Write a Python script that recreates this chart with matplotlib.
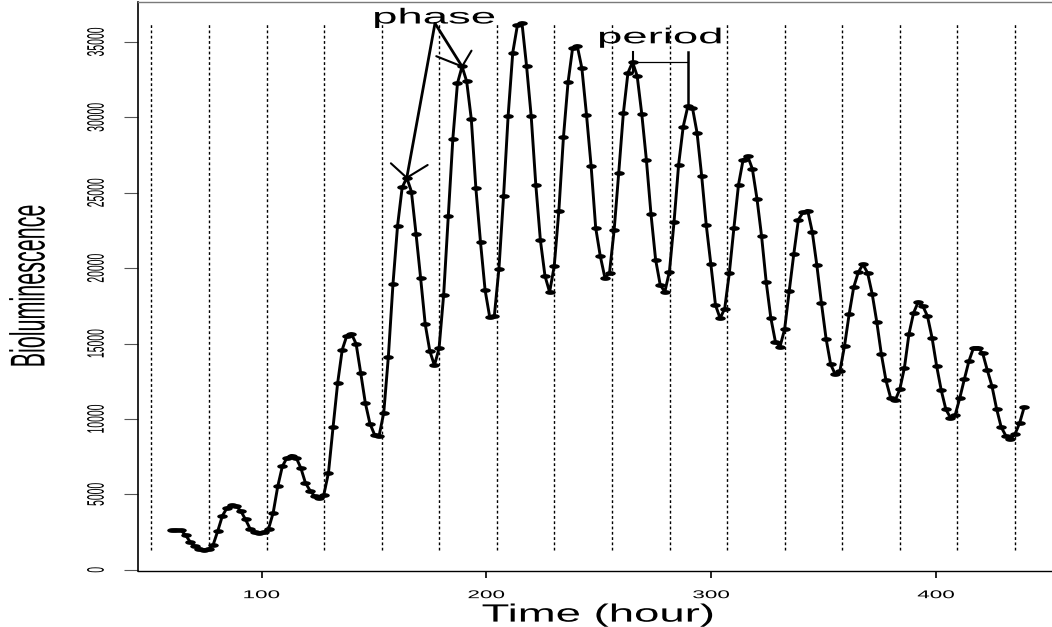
import numpy as np
import matplotlib
matplotlib.use("Agg")
import matplotlib.pyplot as plt
from matplotlib.path import Path
from matplotlib.patheffects import AbstractPathEffect
from matplotlib.transforms import Affine2D

# ---- data -------------------------------------------------------------
# bioluminescence counts, one sample every t_step hours from t_start
lum = [
    2610, 2640, 2620, 2300, 1850, 1570, 1400, 1340, 1380, 1680,
    2600, 3600, 4110, 4270, 4220, 3890, 3340, 2720, 2520, 2450,
    2500, 2720, 3780, 5540, 6870, 7430, 7580, 7430, 6760, 5770,
    5260, 4880, 4770, 4990, 6430, 9460, 12400, 14610, 15540, 15650,
    14990, 13060, 11070, 9700, 8970, 8900, 10410, 14130, 18940, 22820,
    25360, 26000, 25090, 22300, 19360, 16290, 14510, 13560, 14680, 18230,
    23460, 28600, 32270, 33380, 32390, 29900, 25290, 21730, 18540, 16760,
    16830, 19970, 24760, 30120, 34300, 36100, 36260, 33400, 30080, 25540,
    21850, 19480, 18420, 20140, 23790, 28690, 32330, 34620, 34740, 33270,
    30190, 26800, 22680, 20800, 19370, 19700, 22520, 26330, 30270, 32960,
    33670, 32750, 30230, 27190, 23590, 20580, 18900, 18430, 19780, 23060,
    26880, 29400, 30740, 30640, 28980, 26120, 22850, 20250, 17560, 16680,
    17320, 19680, 22680, 25550, 27200, 27430, 26590, 24620, 22130, 19100,
    16720, 15130, 14800, 15950, 18490, 20960, 23230, 23700, 23830, 22420,
    20190, 17670, 15330, 13620, 12960, 13180, 14840, 16940, 18750, 19740,
    20250, 19700, 18310, 16450, 14290, 12560, 11420, 11240, 11970, 13400,
    15660, 17050, 17760, 17490, 16830, 15390, 13510, 11900, 10640, 10090,
    10250, 11370, 12630, 13840, 14720, 14740, 14350, 13230, 12190, 10690,
    9470, 8900, 8660, 9000, 9730, 10790,
]
t_start = 60.0
t_step = 2.05

# dotted reference lines, one per cycle (hours)
cycle_marks = [50.96, 76.57, 102.18, 127.79, 153.40, 179.01, 204.62, 230.23,
               255.84, 281.45, 307.06, 332.67, 358.28, 383.89, 409.50, 435.11]

x_ticks = [100, 200, 300, 400]
y_ticks = [0, 5000, 10000, 15000, 20000, 25000, 30000, 35000]

# samples used by the annotations
phase_peaks = [51, 63]      # peaks the two "phase" arrows point at
period_peaks = [100, 112]   # consecutive peaks spanned by the "period" bar

lum = np.asarray(lum, dtype=float)
hours = t_start + t_step * np.arange(lum.size)

# ---- helpers ----------------------------------------------------------
class HStretch(AbstractPathEffect):
    """Draw text glyphs widened horizontally about their own centre."""
    def __init__(self, sx=2.0):
        super().__init__()
        self.sx = sx

    def draw_path(self, renderer, gc, tpath, affine, rgbFace=None):
        bb = tpath.get_extents(affine)
        cx = 0.5 * (bb.x0 + bb.x1)
        tr = affine + Affine2D().translate(-cx, 0).scale(self.sx, 1.0).translate(cx, 0)
        renderer.draw_path(gc, tpath, tr, rgbFace)


def r_range(lo, hi, frac=0.04):
    pad = frac * (hi - lo)
    return lo - pad, hi + pad


plt.rcParams['font.family'] = ['Liberation Sans', 'DejaVu Sans']

W, H = 1052, 627
fig = plt.figure(figsize=(W / 100, H / 100), dpi=100)
fig.patch.set_facecolor('white')
ax = fig.add_axes([137.7 / W, 1 - 570.7 / H, 920.6 / W, 568.7 / H])
ax.set_xlim(*r_range(hours.min(), hours.max()))
ax.set_ylim(*r_range(lum.min(), lum.max()))

# wide elliptical point symbol
theta = np.linspace(0, 2 * np.pi, 49)
ellipse = Path(np.column_stack([np.cos(theta), 0.45 * np.sin(theta)]), closed=True)

# cycle lines
ax.vlines(cycle_marks, lum.min(), lum.max(), colors='black',
          linestyles=[(0, (2.0, 1.8))], linewidth=1.0, zorder=1)

# series
ax.plot(hours, lum, color='black', lw=2.1, solid_joinstyle='round',
        solid_capstyle='round', zorder=3)
ax.plot(hours, lum, ls='none', marker=ellipse, ms=7.6, mfc='black',
        mec='black', mew=0, zorder=4)

# ---- axes styling -------------------------------------------------------
ax.spines['right'].set_visible(False)
ax.spines['top'].set_color('#7a7a7a')
ax.spines['top'].set_linewidth(1.0)
ax.spines['left'].set_linewidth(1.2)
ax.spines['bottom'].set_linewidth(1.0)

ax.set_xticks(x_ticks, labels=[str(v) for v in x_ticks])
ax.set_yticks(y_ticks, labels=[str(v) for v in y_ticks])
ax.tick_params(axis='x', length=5.0, width=1.2, pad=9.0, labelsize=8.1)
ax.tick_params(axis='y', length=10.3, width=0.8, color='#555555', pad=19.7,
               labelsize=7.5, labelrotation=90)
for lab in ax.get_xticklabels():
    lab.set_path_effects([HStretch(2.0)])
for lab in ax.get_yticklabels():
    lab.set_ha('center')
    lab.set_va('center')
    lab.set_path_effects([HStretch(2.3)])

ax.set_xlabel('Time (hour)', fontsize=18, va='baseline', ha='center')
ax.xaxis.set_label_coords(0.5, -(621.6 - 570.7) / 568.7)
ax.xaxis.label.set_path_effects([HStretch(1.82)])

ax.set_ylabel('Bioluminescence', fontsize=15.5, va='center', ha='center')
ax.yaxis.set_label_coords((29.2 - 137.7) / 920.6, 0.5)
ax.yaxis.label.set_path_effects([HStretch(2.27)])

# ---- annotations --------------------------------------------------------
to_px = ax.transData
from_px = to_px.inverted()


def px_offset(pt, dx, dy):
    p = to_px.transform(pt)
    return from_px.transform(p + np.array([dx, dy]))


def arrow_head(tail, tip, length=16.5, angle=34.0, squash=2.0, lw=1.5):
    p_tail = to_px.transform(tail)
    p_tip = to_px.transform(tip)
    d = p_tail - p_tip
    d[0] /= squash
    d /= np.hypot(*d)
    for sgn in (1, -1):
        a = np.deg2rad(sgn * angle)
        rot = np.array([[np.cos(a), -np.sin(a)], [np.sin(a), np.cos(a)]])
        v = rot @ d * length
        v[0] *= squash
        end = from_px.transform(p_tip + v)
        ax.plot([tip[0], end[0]], [tip[1], end[1]], color='black', lw=lw,
                solid_capstyle='round', zorder=5)


# phase: two arrows from the label down to successive peaks
phase_anchor = (177.1, 36244.0)
ax.text(176.75, 36231.0, 'phase', fontsize=15.6, ha='center', va='baseline',
        path_effects=[HStretch(2.1)], zorder=6)
for i in phase_peaks:
    tip = (hours[i], lum[i])
    ax.plot([phase_anchor[0], tip[0]], [phase_anchor[1], tip[1]], color='black',
            lw=2.0, solid_capstyle='round', zorder=5)
    arrow_head(phase_anchor, tip)

# period: bar between two consecutive peaks
i0, i1 = period_peaks
t0, t1 = hours[i0], hours[i1]
v0, v1 = lum[i0], lum[i1]
cap_up = px_offset((t0, v0), 0, 10.5)[1]
cap_dn = px_offset((t0, v0), 0, -10.0)[1]
ax.plot([t0, t1], [v0, v0], color='black', lw=0.9, zorder=5)
ax.plot([t0, t0], [cap_dn, cap_up], color='black', lw=1.5, zorder=5)
ax.plot([t1, t1], [cap_up, v1], color='black', lw=1.8, zorder=5)
ax.text(277.3, 34918.0, 'period', fontsize=15.6, ha='center', va='baseline',
        path_effects=[HStretch(2.1)], zorder=6)

fig.savefig('out.png', dpi=100, facecolor='white')
